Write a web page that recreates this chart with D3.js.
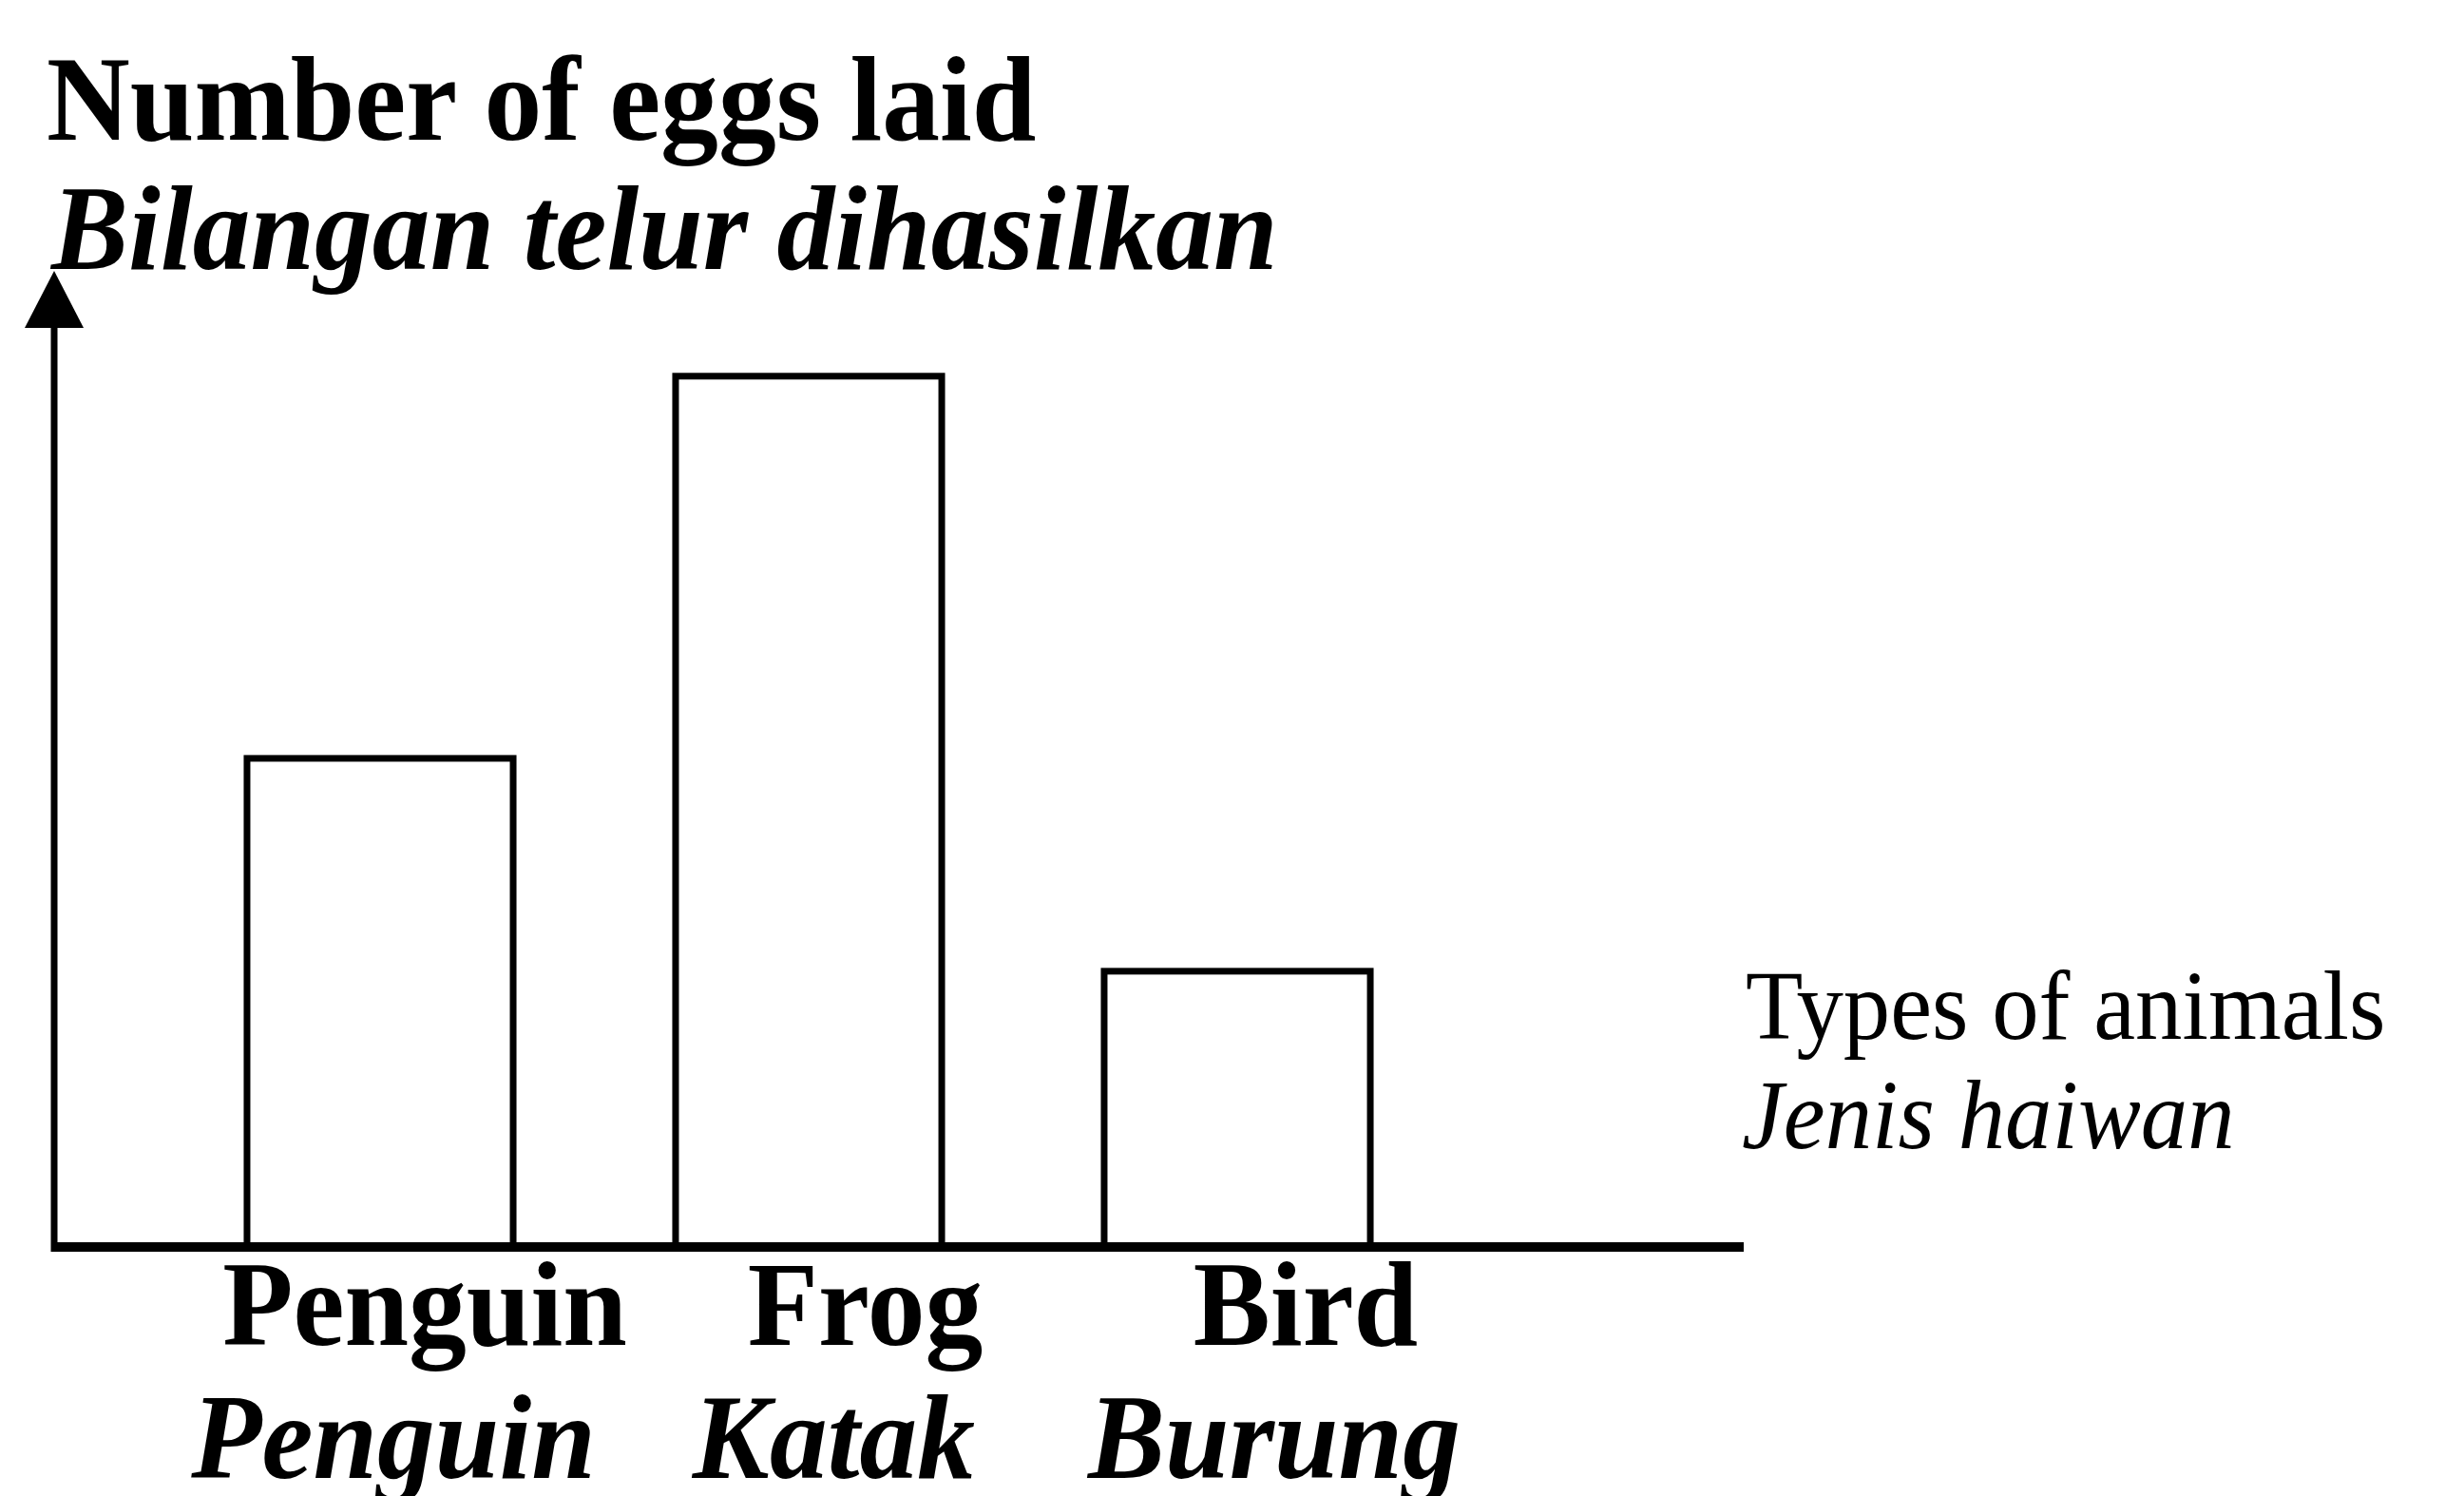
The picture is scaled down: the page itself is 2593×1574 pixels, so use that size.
<!DOCTYPE html>
<html>
<head>
<meta charset="utf-8">
<script src="https://cdn.jsdelivr.net/npm/d3@7/dist/d3.min.js"></script>
<style>
  html, body { margin: 0; padding: 0; background: #fff; }
  svg { display: block; }
  text { font-family: "Liberation Serif", "Times New Roman", serif; fill: #000; }
</style>
</head>
<body>
<div id="chart"></div>
<script>
// animal types (English / Malay)
const categories = ["Penguin", "Frog", "Bird"];
const categoriesMs = ["Penguin", "Katak", "Burung"];
// number of eggs laid (no scale printed, relative heights)
const eggs = [5.05, 9, 2.85];

const yTitle = ["Number of eggs laid", "Bilangan telur dihasilkan"];
const xTitle = ["Types of animals", "Jenis haiwan"];

const W = 2593, H = 1574;
const originX = 57, originY = 1312, axisEnd = 1835;
const squeeze = 0.95; // the print face is a touch narrower than Times

const svg = d3.select("#chart").append("svg")
    .attr("width", W)
    .attr("height", H)
    .attr("viewBox", `0 0 ${W} ${H}`);

const x = d3.scaleBand()
    .domain(categories)
    .range([originX, 1645])
    .paddingInner(0.379)
    .paddingOuter(0.45);

const y = d3.scaleLinear()
    .domain([0, 10])
    .range([originY, 294]);

const labelX = d3.scalePoint()
    .domain(categories)
    .range([447, 1374]);

function addText(x0, y0, str, size, opts = {}){
    svg.append("text")
        .attr("transform", `translate(${x0},${y0}) scale(${squeeze},1)`)
        .attr("text-anchor", opts.anchor || "start")
        .style("font-size", size + "px")
        .style("font-weight", opts.bold ? "bold" : "normal")
        .style("font-style", opts.italic ? "italic" : "normal")
        .text(str);
}

// bars
svg.append("g")
    .selectAll("rect")
    .data(categories.map((c, i) => ({ cat: c, value: eggs[i] })))
    .join("rect")
        .attr("x", d => x(d.cat))
        .attr("y", d => y(d.value))
        .attr("width", x.bandwidth())
        .attr("height", d => y(0) - y(d.value))
        .attr("fill", "#fff")
        .attr("stroke", "#000")
        .attr("stroke-width", 7);

// axes
svg.append("line")
    .attr("x1", originX).attr("y1", originY + 5)
    .attr("x2", originX).attr("y2", 340)
    .attr("stroke", "#000")
    .attr("stroke-width", 7);

svg.append("path")
    .attr("d", `M${originX},285 L${originX - 31},345 L${originX + 31},345 Z`)
    .attr("fill", "#000");

svg.append("line")
    .attr("x1", originX - 3).attr("y1", originY)
    .attr("x2", axisEnd).attr("y2", originY)
    .attr("stroke", "#000")
    .attr("stroke-width", 10);

// y-axis title
addText(49, 147, yTitle[0], 128, { bold: true });
addText(54, 283, yTitle[1], 128, { bold: true, italic: true });

// x-axis title
addText(1837, 1093, xTitle[0], 104);
addText(1833, 1208, xTitle[1], 104, { italic: true });

// category labels (the reference page crops the descenders of the last line)
categories.forEach((c, i) => {
    addText(labelX(c), 1415, c, 128, { bold: true, anchor: "middle" });
    addText(labelX(c) - 33, 1555, categoriesMs[i], 128, { bold: true, italic: true, anchor: "middle" });
});
</script>
</body>
</html>
